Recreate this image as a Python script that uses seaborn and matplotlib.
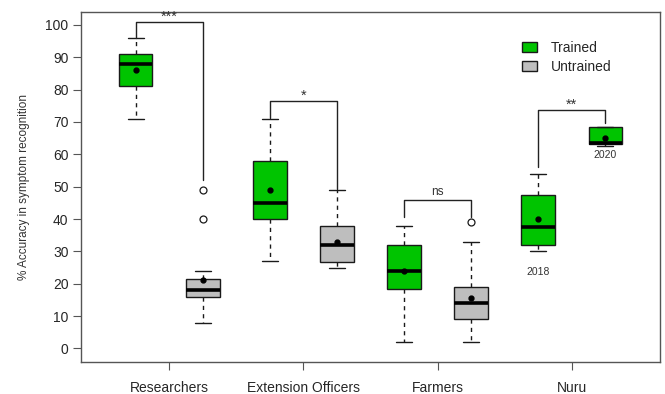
import matplotlib
matplotlib.use("Agg")
import matplotlib.pyplot as plt
from matplotlib.patches import Patch
import seaborn as sns

# box summaries
groups = ["Researchers", "Extension Officers", "Farmers", "Nuru"]
trained_stats = {
    "whislo": [71, 27, 2, 30],
    "q1": [81, 40, 18.5, 32],
    "med": [88, 45, 24, 37.5],
    "q3": [91, 58, 32, 47.5],
    "whishi": [96, 71, 38, 54],
    "mean": [86, 49, 24, 40],
    "fliers": [[], [], [], []],
}
untrained_stats = {
    "whislo": [8, 25, 2, 62.5],
    "q1": [16, 26.6, 9, 63.3],
    "med": [18, 32, 14, 63.5],
    "q3": [21.5, 38, 19, 68.3],
    "whishi": [24, 49, 33, 68.3],
    "mean": [21.3, 33, 15.5, 65],
    "fliers": [[40, 49], [], [39], []],
}
# Nuru second box is the 2020 trained cohort
untrained_colors = ["#bebebe", "#bebebe", "#bebebe", "#00c400"]

# significance brackets: (left y, top y, right y, label)
bracket_left = [96, 71.3, 40.5, 56]
bracket_top = [101, 76.6, 45.8, 73.7]
bracket_right = [52, 49.2, 40.5, 69.6]
bracket_labels = ["***", "*", "ns", "**"]
year_labels = ["2018", "2020"]
year_y = [23.5, 59.8]

sns.set_style("ticks")
plt.rcParams["font.family"] = ["Liberation Sans", "DejaVu Sans"]

fig = plt.figure(figsize=(6.65, 3.94), dpi=100)
ax = fig.add_axes([0.1218, 0.0812, 0.8707, 0.8883])

green = "#00c400"
edge = "#1a1a1a"


def to_list(stats, n):
    return [{k: stats[k][i] for k in stats} for i in range(n)]


common = dict(
    widths=0.25,
    showmeans=True,
    patch_artist=True,
    boxprops=dict(edgecolor=edge, linewidth=1.0),
    medianprops=dict(color="black", linewidth=2.6),
    whiskerprops=dict(color=edge, linewidth=1.0, linestyle=(0, (3, 3))),
    capprops=dict(color=edge, linewidth=1.0),
    capwidths=0.12,
    meanprops=dict(marker="o", markerfacecolor="black", markeredgecolor="black", markersize=3.5),
    flierprops=dict(marker="o", markerfacecolor="white", markeredgecolor=edge, markersize=5, markeredgewidth=0.9),
    manage_ticks=False,
)

pos_t = [i + 1 - 0.25 for i in range(len(groups))]
pos_u = [i + 1 + 0.25 for i in range(len(groups))]
bt = ax.bxp(to_list(trained_stats, 4), positions=pos_t, **common)
bu = ax.bxp(to_list(untrained_stats, 4), positions=pos_u, **common)
for b in bt["boxes"]:
    b.set_facecolor(green)
for b, c in zip(bu["boxes"], untrained_colors):
    b.set_facecolor(c)

for i in range(len(groups)):
    x0, x1 = pos_t[i], pos_u[i]
    ax.plot([x0, x0, x1, x1], [bracket_left[i], bracket_top[i], bracket_top[i], bracket_right[i]],
            color="#222222", linewidth=1.0)
    lab = bracket_labels[i]
    if lab == "ns":
        ax.text((x0 + x1) / 2, bracket_top[i] + 0.8, lab, ha="center", va="bottom",
                fontsize=8.5, color="#333333")
    else:
        ax.text((x0 + x1) / 2, bracket_top[i] - 0.6, lab, ha="center", va="bottom",
                fontsize=10.5, color="#333333")

ax.text(pos_t[3], year_y[0], year_labels[0], ha="center", va="center", fontsize=7.5, color="#333333")
ax.text(pos_u[3], year_y[1], year_labels[1], ha="center", va="center", fontsize=7.5, color="#333333")

ax.set_xlim(0.343, 4.657)
ax.set_ylim(-4.2, 104)
ax.set_xticks(range(1, len(groups) + 1))
ax.set_xticklabels(groups, fontsize=10)
ax.set_yticks(range(0, 101, 10))
ax.tick_params(axis="y", labelsize=10, length=6, width=0.8, color="#555555", pad=3)
ax.tick_params(axis="x", length=6, width=0.8, color="#555555", pad=8)
ax.set_ylabel("% Accuracy in symptom recognition", fontsize=8.5, color="#333333", labelpad=11)
for s in ax.spines.values():
    s.set_color("#555555")
    s.set_linewidth(1.0)
    s.set_visible(True)

handles = [Patch(facecolor=green, edgecolor=edge, label="Trained"),
           Patch(facecolor="#bebebe", edgecolor=edge, label="Untrained")]
ax.legend(handles=handles, loc="upper left", bbox_to_anchor=(0.74, 0.953), frameon=False,
          fontsize=10, handlelength=1.1, handleheight=0.8, handletextpad=1.0, labelspacing=0.35)

fig.savefig("out.png", dpi=100)
